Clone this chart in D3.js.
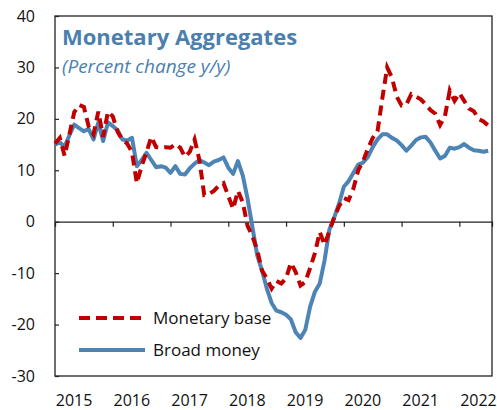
<!DOCTYPE html>
<html>
<head>
<meta charset="utf-8">
<script src="https://cdn.jsdelivr.net/npm/d3@7"></script>
<style>
  body { margin: 0; background: #fff; }
  svg { display: block; font-family: 'Open Sans', 'Noto Sans', sans-serif; }
</style>
</head>
<body>
<svg id="chart" width="497" height="410"></svg>
<script>
/* monthly, Jan 2015 .. Jul 2022 */
const startYear = 2015;
const monetaryBase = [
  15.2, 16.3, 12.8, 17.0, 21.3, 22.7, 22.3, 18.5, 17.0, 21.4, 16.5, 21.4,
  20.5, 17.5, 15.9, 15.2, 13.5, 7.5, 10.8, 13.5, 16.5, 14.5, 14.4, 14.5,
  14.4, 15.1, 14.4, 12.6, 13.6, 16.0, 12.0, 5.2, 5.4, 6.0, 7.0, 7.5,
  5.0, 2.5, 6.0, 3.8, -0.8, -2.8, -5.5, -9.5, -11.0, -13.0, -11.5, -12.0,
  -11.0, -8.0, -9.8, -12.4, -11.7, -9.0, -6.1, -2.0, -4.5, -1.8, 0.8, 3.0,
  4.6, 4.2, 6.5, 10.0, 11.8, 14.2, 16.3, 17.6, 24.0, 30.0, 28.0, 24.3,
  22.6, 22.8, 24.8, 24.3, 23.8, 22.8, 21.7, 21.0, 18.8, 20.5, 25.5, 23.5,
  25.0, 23.5, 22.0, 21.5, 20.0, 19.5, 18.7
];
const broadMoney = [
  15.0, 15.4, 14.6, 16.8, 18.9, 18.2, 17.6, 18.0, 16.0, 19.3, 15.7, 19.3,
  18.6, 17.8, 16.0, 15.8, 16.3, 10.8, 12.0, 13.4, 12.0, 10.6, 10.8, 10.5,
  9.5, 10.8, 9.3, 9.2, 10.4, 11.3, 12.0, 11.5, 11.0, 11.7, 12.0, 12.5,
  10.5, 9.3, 11.8, 9.0, 4.5, -1.0, -6.5, -9.5, -13.0, -15.8, -17.3, -17.6,
  -18.1, -19.0, -21.5, -22.6, -21.0, -16.5, -13.6, -12.0, -7.5, -1.5, 0.8, 3.5,
  6.8, 7.9, 9.5, 11.1, 11.5, 12.6, 14.5, 16.0, 17.0, 17.0, 16.3, 15.8,
  14.9, 13.8, 14.8, 15.9, 16.4, 16.5, 15.4, 13.8, 12.3, 12.8, 14.4, 14.2,
  14.5, 15.1, 14.4, 13.9, 13.8, 13.6, 13.8
];
const yearLabels = ['2015', '2016', '2017', '2018', '2019', '2020', '2021', '2022'];
const yTicks = [-30, -20, -10, 0, 10, 20, 30, 40];

const svg = d3.select('#chart');
const plotLeft = 55, plotRight = 492, plotTop = 16, plotBottom = 376;

const x = d3.scaleLinear().domain([2015, 2022.565]).range([plotLeft, plotRight]);
const y = d3.scaleLinear().domain([-30, 40]).range([plotBottom, plotTop]);

const toPoints = (arr) => arr.map((v, i) => ({ t: startYear + i / 12, v }));

/* frame */
svg.append('rect')
  .attr('x', plotLeft).attr('y', plotTop)
  .attr('width', plotRight - plotLeft).attr('height', plotBottom - plotTop)
  .attr('fill', 'none').attr('stroke', '#222').attr('stroke-width', 1.3);

/* y axis, ticks inward */
const yAxis = svg.append('g').attr('transform', `translate(${plotLeft},0)`)
  .call(d3.axisRight(y).tickValues(yTicks).tickSize(4).tickFormat(''));
yAxis.select('.domain').remove();
yAxis.selectAll('line').attr('stroke', '#222').attr('stroke-width', 1.2);

svg.append('g').selectAll('text')
  .data(yTicks)
  .enter().append('text')
  .attr('x', 35)
  .attr('y', (d) => y(d))
  .attr('dy', '0.35em')
  .attr('text-anchor', 'end')
  .attr('font-size', 16)
  .attr('fill', '#111')
  .text((d) => d);

/* zero line with year ticks */
const xAxis = svg.append('g').attr('transform', `translate(0,${y(0)})`)
  .call(d3.axisBottom(x).tickValues(d3.range(2016, 2023)).tickSize(5).tickFormat(''));
xAxis.select('.domain').attr('stroke', '#222').attr('stroke-width', 1.3);
xAxis.selectAll('line').attr('stroke', '#222').attr('stroke-width', 1.2);

svg.append('g').selectAll('text')
  .data(yearLabels)
  .enter().append('text')
  .attr('x', (d) => x(+d + 0.33))
  .attr('y', 406)
  .attr('text-anchor', 'middle')
  .attr('font-size', 16)
  .attr('fill', '#111')
  .text((d) => d);

/* series */
const line = d3.line().x((d) => x(d.t)).y((d) => y(d.v));

svg.append('path')
  .datum(toPoints(broadMoney))
  .attr('d', line)
  .attr('fill', 'none')
  .attr('stroke', '#4d84b6')
  .attr('stroke-width', 4)
  .attr('stroke-linejoin', 'round');

svg.append('path')
  .datum(toPoints(monetaryBase))
  .attr('d', line)
  .attr('fill', 'none')
  .attr('stroke', '#c00000')
  .attr('stroke-width', 4)
  .attr('stroke-dasharray', '10,6');

/* title */
svg.append('text')
  .attr('x', 62).attr('y', 45)
  .attr('font-size', 22).attr('font-weight', 'bold')
  .attr('fill', '#4a7fb0')
  .text('Monetary Aggregates');

svg.append('text')
  .attr('x', 62).attr('y', 73)
  .attr('font-size', 19).attr('font-style', 'italic')
  .attr('fill', '#4a7fb0')
  .text('(Percent change y/y)');

/* legend */
const legend = [
  { name: 'Monetary base', colour: '#c00000', dash: '11,6', y: 318 },
  { name: 'Broad money', colour: '#4d84b6', dash: null, y: 350 },
];
const lg = svg.append('g').selectAll('g').data(legend).enter().append('g');
lg.append('line')
  .attr('x1', 79).attr('x2', 145)
  .attr('y1', (d) => d.y).attr('y2', (d) => d.y)
  .attr('stroke', (d) => d.colour)
  .attr('stroke-width', 4)
  .attr('stroke-dasharray', (d) => d.dash);
lg.append('text')
  .attr('x', 153)
  .attr('y', (d) => d.y)
  .attr('dy', '0.35em')
  .attr('font-size', 17)
  .attr('fill', '#111')
  .text((d) => d.name);
</script>
</body>
</html>
